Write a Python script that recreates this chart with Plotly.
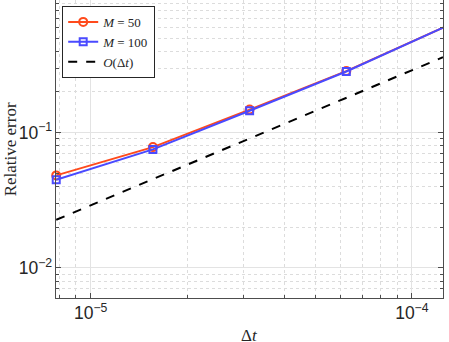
import numpy as np
import plotly.graph_objects as go

dt = [7.8125e-6, 1.5625e-5, 3.125e-5, 6.25e-5, 1.25e-4]
err_m50 = [0.0483, 0.0782, 0.148, 0.285, 0.596]
err_m100 = [0.0449, 0.0752, 0.145, 0.283, 0.596]
ref_order1 = [0.0227, 0.0452, 0.0903, 0.181, 0.361]

serif = "Liberation Serif, DejaVu Serif, serif"
sans = "Liberation Sans, Arial, sans-serif"

fig = go.Figure()
fig.add_trace(go.Scatter(x=dt, y=err_m50, mode="lines+markers",
                         name="<i>M</i> = 50", cliponaxis=False,
                         line=dict(color="#ff4a1c", width=2),
                         marker=dict(symbol="circle-open", size=8,
                                     line=dict(width=2, color="#ff4a1c"))))
fig.add_trace(go.Scatter(x=dt, y=err_m100, mode="lines+markers",
                         name="<i>M</i> = 100", cliponaxis=False,
                         line=dict(color="#4a4aff", width=2),
                         marker=dict(symbol="square-open", size=7,
                                     line=dict(width=2, color="#4a4aff"))))
fig.add_trace(go.Scatter(x=dt, y=ref_order1, mode="lines",
                         name="<i>O</i>(Δ<i>t</i>)",
                         line=dict(color="black", width=2, dash="dash")))

axis_common = dict(
    type="log", showline=True, linecolor="#4d4d4d", linewidth=1,
    ticks="inside", ticklen=5, tickcolor="#4d4d4d",
    showgrid=True, gridcolor="#e3e3e3", gridwidth=1,
    exponentformat="power", dtick=1, automargin=False,
    tickfont=dict(family=sans, size=14, color="#262626"),
    minor=dict(ticks="inside", ticklen=3, tickcolor="#4d4d4d",
               showgrid=True, gridcolor="#dcdcdc", griddash="dot", dtick="D1"),
    zeroline=False,
)

fig.update_xaxes(**axis_common, range=[np.log10(7.8e-6), np.log10(1.25e-4)])
fig.update_yaxes(**axis_common, range=[np.log10(0.006), np.log10(0.955)],
                 mirror="ticks")

fig.update_layout(
    width=449, height=342,
    margin=dict(l=56, r=6, t=0, b=44),
    plot_bgcolor="white", paper_bgcolor="white",
    showlegend=True,
    legend=dict(x=0.016, y=0.98, xanchor="left", yanchor="top",
                bgcolor="white", bordercolor="#262626", borderwidth=1,
                font=dict(family=serif, size=13, color="#262626"),
                tracegroupgap=0, itemwidth=30),
    annotations=[
        dict(text="Δ<i>t</i>", xref="paper", yref="paper", x=0.5, y=-0.125,
             xanchor="center", yanchor="middle", showarrow=False,
             font=dict(family=serif, size=17, color="#262626")),
        dict(text="Relative error", xref="paper", yref="paper", x=-0.118, y=0.5,
             xanchor="center", yanchor="middle", showarrow=False, textangle=-90,
             font=dict(family=serif, size=17, color="#262626")),
    ],
)

fig.write_html("out.html", config={"displayModeBar": False},
               post_script="document.body.style.margin='0';")
